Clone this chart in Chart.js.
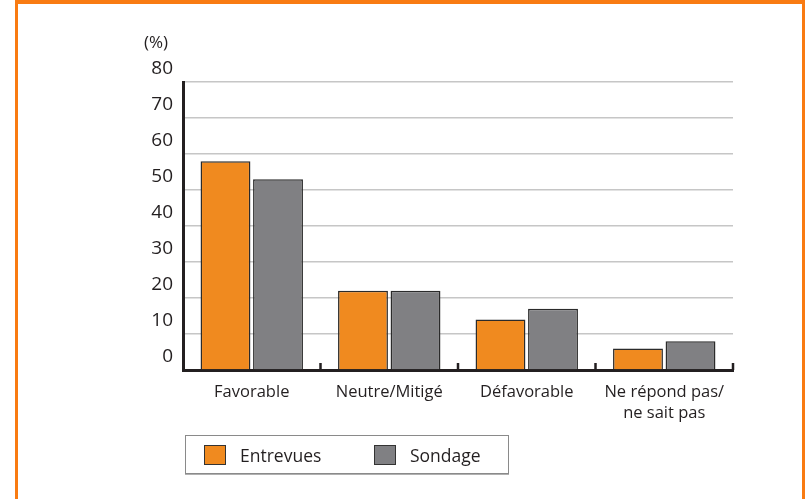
<!DOCTYPE html>
<html>
<head>
<meta charset="utf-8">
<script src="https://cdn.jsdelivr.net/npm/chart.js@4/dist/chart.umd.min.js"></script>
<style>
  html, body { margin: 0; padding: 0; background: #fff; }
  #wrap { position: relative; width: 809px; height: 499px; overflow: hidden; }
  #frame { position: absolute; left: 15px; top: 0; width: 784px; height: 499px;
           border-top: 4px solid #F97B12; border-left: 3px solid #F97B12; border-right: 3px solid #F97B12; }
  canvas { position: absolute; left: 0; top: 0; }
  #legend { position: absolute; left: 185px; top: 435px; width: 322px; height: 37px;
            border: 1px solid #8a8a8a; box-shadow: 0 1px 0 #b0b0b0;
            font-family: "Open Sans", sans-serif; font-size: 17.5px; color: #231f20; }
  .item { position: absolute; top: 0; height: 37px; display: flex; align-items: center; }
  .sw { width: 20px; height: 18px; border: 1.5px solid #333; margin-right: 14px; }
</style>
</head>
<body>
<div id="wrap">
  <div id="frame"></div>
  <canvas id="chart" width="809" height="499"></canvas>
  <div id="legend"></div>
</div>
<script>
// Survey response categories
const categories = ['Favorable', 'Neutre/Mitigé', 'Défavorable', ['Ne répond pas/', 'ne sait pas']];
// Percentage of respondents per category
const entrevues = [58, 22, 14, 6];
const sondage = [53, 22, 17, 8];
const seriesNames = ['Entrevues', 'Sondage'];
const seriesColors = ['#F08A1F', '#808083'];
const yTicks = [0, 10, 20, 30, 40, 50, 60, 70, 80];

const ink = '#231f20';

// Unit label above the value axis
const unitLabel = {
  id: 'unitLabel',
  afterDraw(chart) {
    const { ctx, chartArea } = chart;
    ctx.save();
    ctx.font = '17px "Open Sans", sans-serif';
    ctx.fillStyle = ink;
    ctx.textBaseline = 'middle';
    ctx.textAlign = 'left';
    ctx.fillText('(%)', chartArea.left - 39, 43);
    ctx.restore();
  }
};

// Short upward marks at the category boundaries on the baseline
const boundaryMarks = {
  id: 'boundaryMarks',
  afterDraw(chart) {
    const { ctx, chartArea } = chart;
    const x = chart.scales.x;
    const half = (x.getPixelForValue(1) - x.getPixelForValue(0)) / 2;
    ctx.save();
    ctx.strokeStyle = ink;
    ctx.lineWidth = 2.5;
    for (let i = 0; i < categories.length; i++) {
      const px = x.getPixelForValue(i) + half;
      ctx.beginPath();
      ctx.moveTo(px, chartArea.bottom - 7);
      ctx.lineTo(px, chartArea.bottom);
      ctx.stroke();
    }
    ctx.restore();
  }
};

const chart = new Chart(document.getElementById('chart'), {
  type: 'bar',
  data: {
    labels: categories,
    datasets: [
      { label: seriesNames[0], data: entrevues, backgroundColor: seriesColors[0] },
      { label: seriesNames[1], data: sondage, backgroundColor: seriesColors[1] }
    ]
  },
  options: {
    responsive: false,
    animation: false,
    layout: { padding: { top: 82, right: 76, left: 0, bottom: 69 } },
    datasets: {
      bar: {
        borderColor: '#2b2b2b',
        borderWidth: 1.5,
        categoryPercentage: 0.764,
        barPercentage: 0.95
      }
    },
    plugins: {
      legend: { display: false },
      tooltip: { enabled: false }
    },
    scales: {
      x: {
        afterFit(scale) { scale.height = 60; },
        grid: { display: false },
        border: { display: true, color: ink, width: 3 },
        ticks: {
          color: ink,
          padding: 4,
          font: { family: '"Open Sans", sans-serif', size: 16.5, lineHeight: 1.25 }
        }
      },
      y: {
        min: 0,
        max: 80,
        afterFit(scale) { scale.width = 183; },
        afterBuildTicks(scale) { scale.ticks = yTicks.map(v => ({ value: v })); },
        grid: { color: '#c6c6c6', lineWidth: 1.5, drawTicks: false },
        border: { display: true, color: ink, width: 3 },
        ticks: {
          color: ink,
          padding: 10,
          labelOffset: -13,
          font: { family: '"Open Sans", sans-serif', size: 19 }
        }
      }
    }
  },
  plugins: [unitLabel, boundaryMarks]
});

// Boxed legend built from the datasets
const legend = document.getElementById('legend');
const offsets = [18, 188];
chart.data.datasets.forEach((ds, i) => {
  const item = document.createElement('div');
  item.className = 'item';
  item.style.left = offsets[i] + 'px';
  const sw = document.createElement('span');
  sw.className = 'sw';
  sw.style.background = ds.backgroundColor;
  const txt = document.createElement('span');
  txt.textContent = ds.label;
  item.appendChild(sw);
  item.appendChild(txt);
  legend.appendChild(item);
});
</script>
</body>
</html>
